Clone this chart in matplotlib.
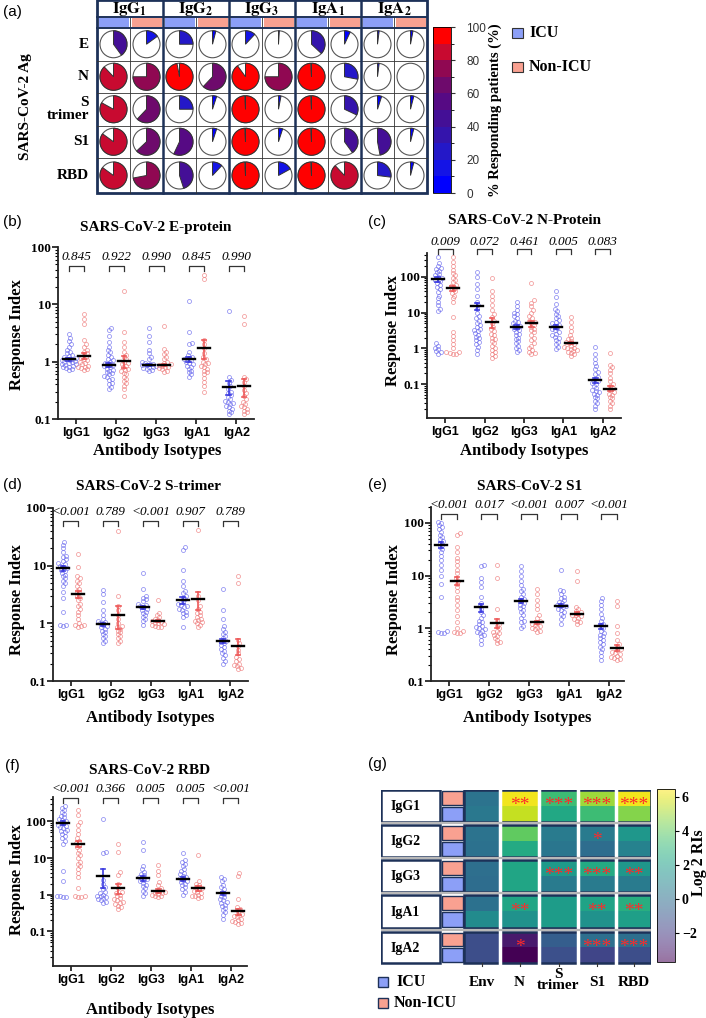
import numpy as np
import matplotlib
matplotlib.use("Agg")
from matplotlib import pyplot as plt
from matplotlib.patches import Wedge, Rectangle, Circle
from matplotlib.colors import ListedColormap, BoundaryNorm, Normalize
from matplotlib.cm import ScalarMappable
from matplotlib.ticker import LogLocator, NullFormatter
import matplotlib.transforms as mtransforms

plt.rcParams['mathtext.fontset'] = 'stix'

# ---------------- data ----------------
isotypes = ["IgG1", "IgG2", "IgG3", "IgA1", "IgA2"]
header_labels = [r"$\mathbf{IgG}_{\mathbf{1}}$", r"$\mathbf{IgG}_{\mathbf{2}}$", r"$\mathbf{IgG}_{\mathbf{3}}$",
                 r"$\mathbf{IgA}_{\mathbf{1}}$", r"$\mathbf{IgA}_{\mathbf{2}}$"]
antigens_a = ["E", "N", "S\ntrimer", "S1", "RBD"]

# % responding patients, rows = antigens, cols = isotypes
pct_icu = [
    [40, 25, 12, 37, 2],
    [88, 97, 90, 99, 2],
    [83, 25, 99, 99, 5],
    [85, 57, 99, 99, 47],
    [85, 45, 99, 99, 27],
]
pct_non = [
    [15, 4, 1, 7, 3],
    [75, 62, 75, 28, 0],
    [62, 5, 3, 32, 4],
    [63, 5, 5, 40, 4],
    [72, 12, 17, 88, 4],
]

# E-protein
e_icu = [
    [0.72, 0.75, 0.78, 0.8, 0.82, 0.85, 0.88, 0.9, 0.92, 0.95, 0.98, 1.0, 1.02, 1.05, 1.08, 1.1, 1.12, 1.15, 1.2, 1.25, 1.3, 1.4, 1.5, 1.6, 1.8, 2.0, 2.3, 2.6, 3.0],
    [0.33, 0.36, 0.4, 0.43, 0.47, 0.5, 0.53, 0.56, 0.6, 0.63, 0.66, 0.7, 0.73, 0.76, 0.8, 0.83, 0.86, 0.9, 0.95, 1.0, 1.05, 1.1, 1.2, 1.3, 1.45, 1.6, 1.8, 2.2, 2.8, 3.5, 3.9],
    [0.68, 0.72, 0.75, 0.78, 0.8, 0.82, 0.84, 0.86, 0.88, 0.9, 0.92, 0.95, 1.0, 1.1, 1.2, 1.4, 1.6, 2.2, 2.8, 3.8],
    [0.55, 0.6, 0.65, 0.7, 0.75, 0.8, 0.85, 0.9, 0.95, 1.0, 1.05, 1.1, 1.15, 1.2, 1.3, 1.45, 2.0, 2.1, 3.3, 11.5],
    [0.12, 0.13, 0.14, 0.15, 0.16, 0.17, 0.18, 0.19, 0.2, 0.21, 0.22, 0.24, 0.26, 0.28, 0.3, 0.33, 0.37, 0.42, 0.47, 0.55, 7.5],
]
e_non = [
    [0.72, 0.75, 0.78, 0.8, 0.82, 0.85, 0.9, 0.95, 1.0, 1.05, 1.1, 1.15, 1.2, 1.3, 1.4, 1.5, 1.6, 1.8, 2.0, 2.4, 4.5, 5.5, 6.8],
    [0.25, 0.33, 0.38, 0.42, 0.46, 0.5, 0.55, 0.6, 0.64, 0.68, 0.72, 0.76, 0.8, 0.85, 0.9, 0.95, 1.0, 1.1, 1.2, 1.3, 1.5, 1.8, 2.2, 3.3, 17],
    [0.66, 0.7, 0.74, 0.77, 0.8, 0.82, 0.85, 0.88, 0.9, 0.95, 1.0, 1.1, 1.2, 1.35, 1.5, 1.65, 4.2],
    [0.3, 0.37, 0.45, 0.52, 0.6, 0.65, 0.7, 0.75, 0.8, 0.85, 0.9, 0.95, 1.0, 1.1, 1.2, 1.4, 1.7, 2.0, 2.4, 28, 33],
    [0.12, 0.13, 0.14, 0.15, 0.16, 0.17, 0.18, 0.2, 0.22, 0.25, 0.28, 0.32, 0.38, 0.45, 0.5, 0.55, 4.5, 6.2],
]
e_icu_mean = [1.1, 0.88, 0.88, 1.1, 0.36]
e_icu_sem = [0.06, 0.06, 0.04, 0.12, 0.1]
e_non_mean = [1.25, 1.03, 0.87, 1.75, 0.37]
e_non_sem = [0.15, 0.25, 0.04, 0.65, 0.13]
e_p = ["0.845", "0.922", "0.990", "0.845", "0.990"]

# N-protein
n_icu = [
    [0.72, 0.78, 0.85, 0.95, 1.05, 1.2, 1.4, 11, 13, 16, 20, 25, 30, 38, 45, 52, 60, 68, 75, 82, 90, 100, 110, 120, 135, 150, 165, 180, 200, 240, 350],
    [0.72, 0.9, 1.1, 1.3, 1.5, 1.7, 1.9, 2.1, 2.4, 2.7, 3.0, 3.3, 3.6, 4.0, 4.5, 5, 6, 7, 8, 10, 13, 16, 20, 30, 45, 65, 100, 140],
    [0.8, 0.9, 1.0, 1.2, 1.4, 1.6, 1.8, 2.0, 2.3, 2.6, 2.9, 3.2, 3.5, 3.8, 4.2, 4.6, 5, 5.5, 6, 7, 8, 9, 10, 12, 15, 20],
    [0.95, 1.1, 1.3, 1.5, 1.7, 1.9, 2.1, 2.3, 2.6, 2.9, 3.2, 3.5, 3.8, 4.2, 4.6, 5, 5.6, 6.3, 7, 8, 9, 11, 13, 17, 28, 40],
    [0.02, 0.025, 0.03, 0.035, 0.04, 0.045, 0.05, 0.055, 0.06, 0.065, 0.07, 0.08, 0.09, 0.1, 0.11, 0.12, 0.14, 0.16, 0.19, 0.22, 0.27, 0.33, 0.4, 0.5, 0.7, 1.1],
]
n_non = [
    [0.7, 0.72, 0.75, 0.78, 0.8, 1.0, 1.3, 1.7, 2.2, 2.8, 7.5, 20, 25, 30, 35, 40, 45, 50, 55, 60, 70, 80, 95, 110, 130, 160, 200, 260, 350],
    [0.55, 0.62, 0.7, 0.8, 0.9, 1.0, 1.2, 1.4, 1.6, 1.8, 2.0, 2.3, 2.6, 3.0, 3.4, 4, 5, 6, 7.5, 9, 12, 16, 22, 30, 40, 95],
    [0.7, 0.75, 0.8, 0.9, 1.0, 1.2, 1.4, 1.7, 2.0, 2.4, 2.8, 3.2, 3.6, 4, 4.5, 5, 5.5, 6, 7, 8, 10, 12, 15, 19, 22, 68],
    [0.6, 0.68, 0.75, 0.8, 0.85, 0.9, 0.95, 1.0, 1.05, 1.1, 1.2, 1.3, 1.4, 1.5, 1.6, 1.8, 2.0, 2.4, 3.0, 4.0, 5.5, 7.5],
    [0.02, 0.025, 0.03, 0.035, 0.04, 0.045, 0.05, 0.055, 0.06, 0.07, 0.08, 0.09, 0.1, 0.12, 0.15, 0.2, 0.25, 0.3, 0.35, 0.75],
]
n_icu_mean = [85, 15, 4.0, 4.0, 0.13]
n_icu_sem = [12, 3.5, 0.5, 0.6, 0.02]
n_non_mean = [48, 5.4, 5.0, 1.4, 0.075]
n_non_sem = [8, 1.6, 1.0, 0.1, 0.012]
n_p = ["0.009", "0.072", "0.461", "0.005", "0.083"]

# S-trimer
st_icu = [
    [0.9, 0.92, 0.95, 1.6, 2.8, 3.5, 4.5, 5, 5.5, 6, 6.5, 7, 7.5, 8, 8.5, 9, 9.5, 10, 10.5, 11, 12, 13, 14, 15, 17, 20, 23, 26],
    [0.45, 0.5, 0.55, 0.6, 0.65, 0.7, 0.75, 0.8, 0.85, 0.9, 0.95, 1.0, 1.05, 1.1, 1.2, 1.4, 1.7, 2.3, 3.2, 3.8],
    [0.95, 1.1, 1.2, 1.3, 1.4, 1.5, 1.6, 1.7, 1.8, 1.9, 2.0, 2.1, 2.2, 2.4, 2.6, 2.8, 3.0, 4.0, 7.5],
    [0.85, 1.3, 1.4, 1.5, 1.6, 1.7, 1.8, 1.9, 2.0, 2.1, 2.2, 2.4, 2.6, 2.8, 3.0, 3.3, 3.7, 4.5, 5.5, 8.5, 19, 21],
    [0.2, 0.22, 0.25, 0.28, 0.3, 0.33, 0.36, 0.39, 0.42, 0.45, 0.48, 0.5, 0.55, 0.6, 0.65, 0.72, 0.8, 0.9, 1.2, 1.7, 4.0],
]
st_non = [
    [0.88, 0.9, 0.92, 0.95, 1.0, 1.2, 1.4, 1.6, 1.8, 2.0, 2.2, 2.5, 2.8, 3.0, 3.3, 3.6, 4, 4.5, 5, 5.5, 6, 6.5, 9.5, 16],
    [0.45, 0.5, 0.55, 0.6, 0.65, 0.7, 0.75, 0.8, 0.85, 0.9, 1.0, 1.2, 1.4, 1.7, 2.0, 3.0, 40],
    [0.85, 0.88, 0.9, 0.93, 0.96, 1.0, 1.03, 1.06, 1.1, 1.15, 1.2, 1.3, 1.4, 1.5, 2.5],
    [0.85, 0.95, 1.0, 1.05, 1.1, 1.15, 1.2, 1.3, 1.4, 1.5, 1.6, 1.8, 2.0, 2.5, 3.0, 42],
    [0.16, 0.17, 0.18, 0.19, 0.2, 0.22, 0.24, 0.26, 0.3, 0.35, 0.4, 0.45, 0.52, 5, 6.5],
]
st_icu_mean = [9.0, 0.97, 1.9, 2.5, 0.5]
st_icu_sem = [1.0, 0.06, 0.12, 0.35, 0.04]
st_non_mean = [3.2, 1.4, 1.1, 2.6, 0.41]
st_non_sem = [0.5, 0.6, 0.05, 0.9, 0.13]
st_p = ["<0.001", "0.789", "<0.001", "0.907", "0.789"]

# S1
s1_icu = [
    [0.8, 0.82, 0.85, 0.9, 4, 7, 10, 13, 16, 20, 24, 28, 32, 35, 38, 42, 46, 50, 55, 60, 68, 75, 82, 90, 100, 105],
    [0.5, 0.6, 0.7, 0.75, 0.8, 0.85, 0.9, 0.95, 1.0, 1.05, 1.1, 1.2, 1.3, 1.4, 1.6, 1.8, 2.0, 2.3, 2.6, 3.0, 4, 6, 7.5, 9, 15, 16],
    [1.0, 1.1, 1.3, 1.4, 1.6, 1.8, 2.0, 2.2, 2.4, 2.6, 2.8, 3.0, 3.3, 3.6, 4, 4.5, 5, 5.5, 6.5, 8, 10, 12, 15],
    [1.2, 1.5, 1.7, 1.9, 2.0, 2.2, 2.3, 2.5, 2.6, 2.7, 2.8, 3.0, 3.2, 3.4, 3.7, 4.0, 4.5, 5, 5.3, 13],
    [0.25, 0.3, 0.35, 0.4, 0.45, 0.5, 0.55, 0.6, 0.65, 0.7, 0.75, 0.8, 0.9, 1.0, 1.1, 1.2, 1.4, 1.6, 1.9, 2.3, 2.8, 3.3, 3.8],
]
s1_non = [
    [0.8, 0.82, 0.85, 0.9, 1.0, 1.3, 1.7, 2.2, 2.8, 3.4, 4, 5, 6, 7, 8, 9, 11, 13, 16, 19, 22, 28, 35, 60, 65],
    [0.52, 0.55, 0.6, 0.65, 0.7, 0.75, 0.8, 0.85, 0.9, 1.0, 1.1, 1.2, 1.4, 2.3, 9, 16],
    [0.85, 0.9, 0.95, 1.0, 1.05, 1.1, 1.15, 1.2, 1.3, 1.4, 1.6, 1.8, 2.3, 2.8, 3.5, 4.5, 5.5],
    [1.2, 1.3, 1.4, 1.5, 1.6, 1.7, 1.75, 1.8, 1.9, 2.0, 2.1, 2.3, 2.5, 8, 12],
    [0.25, 0.26, 0.27, 0.28, 0.3, 0.32, 0.34, 0.36, 0.38, 0.4, 0.45, 0.5, 0.6, 0.8, 1.1, 2.6, 3.3],
]
s1_icu_mean = [38, 2.5, 3.3, 2.7, 1.1]
s1_icu_sem = [5, 0.45, 0.3, 0.15, 0.12]
s1_non_mean = [8, 1.25, 1.3, 1.9, 0.43]
s1_non_sem = [1.4, 0.25, 0.08, 0.1, 0.06]
s1_p = ["<0.001", "0.017", "<0.001", "0.007", "<0.001"]

# RBD
rbd_icu = [
    [0.85, 0.88, 0.9, 0.93, 2.3, 4.5, 25, 30, 35, 40, 45, 50, 55, 60, 65, 70, 75, 80, 90, 100, 110, 120, 130, 145, 160, 180, 200, 230, 260],
    [0.6, 0.65, 0.7, 0.75, 0.8, 0.85, 0.9, 0.95, 1.0, 1.1, 1.2, 1.4, 1.6, 2.0, 2.6, 14, 15, 120],
    [0.95, 1.1, 1.3, 1.5, 1.7, 1.9, 2.1, 2.3, 2.5, 2.7, 2.9, 3.1, 3.4, 3.8, 4.3, 5, 6, 17, 28],
    [1.0, 1.2, 1.4, 1.6, 1.8, 2.0, 2.2, 2.4, 2.6, 2.8, 3.0, 3.3, 3.6, 4.0, 4.5, 5, 6, 7, 8, 9, 14],
    [0.22, 0.28, 0.33, 0.38, 0.43, 0.48, 0.53, 0.58, 0.64, 0.7, 0.77, 0.85, 0.95, 1.05, 1.2, 1.4, 1.6, 1.9, 2.3, 2.7, 3.0],
]
rbd_non = [
    [0.85, 0.88, 0.9, 0.95, 1.5, 3.0, 4.0, 5, 6, 7, 8, 10, 12, 14, 17, 20, 23, 26, 30, 35, 45, 60, 80, 95, 150, 200],
    [0.4, 0.45, 0.5, 0.55, 0.6, 0.65, 0.7, 0.75, 0.8, 0.9, 1.0, 1.1, 1.2, 1.5, 2.0, 3.5, 4.2, 15, 25],
    [0.85, 0.9, 0.95, 1.0, 1.05, 1.1, 1.15, 1.2, 1.3, 1.5, 1.8, 2.2, 3.5, 4.5, 6.5],
    [0.8, 0.85, 0.9, 0.95, 1.0, 1.1, 1.2, 1.3, 1.4, 1.5, 1.6, 1.8, 2.0, 2.3, 12],
    [0.16, 0.17, 0.18, 0.19, 0.2, 0.22, 0.24, 0.26, 0.28, 0.3, 0.34, 0.4, 0.45, 0.75, 3.3, 4],
]
rbd_icu_mean = [90, 3.2, 2.8, 2.7, 1.1]
rbd_icu_sem = [10, 1.7, 0.4, 0.3, 0.1]
rbd_non_mean = [25, 1.5, 1.3, 1.5, 0.35]
rbd_non_sem = [5, 0.45, 0.15, 0.2, 0.07]
rbd_p = ["<0.001", "0.366", "0.005", "0.005", "<0.001"]

# heat map (g): log2 RI, rows per isotype: Non-ICU then ICU
heat_antigens = ["Env", "N", "S\ntrimer", "S1", "RBD"]
heat_non = [
    [0.2, 6.3, 3.3, 5.0, 6.3],
    [0.2, 4.0, 0.5, 0.5, 1.7],
    [0.0, 2.3, 1.8, 2.5, 1.7],
    [0.1, 2.3, 1.9, 2.2, 2.7],
    [-1.3, -3.0, -0.7, 0.0, 0.0],
]
heat_icu = [
    [0.4, 5.6, 2.4, 3.3, 4.6],
    [0.1, 2.5, 0.3, -0.1, 0.8],
    [-0.1, 2.3, 0.5, 0.5, 0.5],
    [1.2, 1.5, 1.9, 1.5, 2.0],
    [-1.3, -3.7, -1.2, -1.6, -1.3],
]
heat_stars = [
    ["", "**", "***", "***", "***"],
    ["", "", "", "*", ""],
    ["", "", "***", "***", "**"],
    ["", "**", "", "**", "**"],
    ["", "*", "", "***", "***"],
]

# ---------------- style ----------------
SERIF = 'Liberation Serif'
SANS = 'Liberation Sans'
NAVY = '#1d3158'
ICU_C = '#8c9ff7'
NON_C = '#f9a191'
BLUE_PT = '#7070ee'
RED_PT = '#ef8080'
BLUE_ERR = '#3b3be0'
RED_ERR = '#ee5a5a'
pie_colors = ['#0000ff', '#1414e6', '#2418c8', '#3414ac', '#440f96',
              '#560a84', '#6e0a6c', '#900852', '#c80a30', '#ff0000']

W, H = 706, 1018
fig = plt.figure(figsize=(W / 100, H / 100), dpi=100)


def rect(x0, y0, x1, y1):
    return [x0 / W, 1 - y1 / H, (x1 - x0) / W, (y1 - y0) / H]


def ftext(x, y, s, **kw):
    return fig.text(x / W, 1 - y / H, s, **kw)


def bold_serif(size):
    return dict(fontfamily=SERIF, fontweight='bold', fontsize=size)


# ---------------- (a) pie grid ----------------
axa = fig.add_axes(rect(97, 0, 427, 193))
axa.set_xlim(97, 427)
axa.set_ylim(193, 0)
axa.axis('off')
col_edges = [97, 163, 229, 295, 361, 427]
row_edges = [28, 60.5, 93, 125.5, 158, 193]
for j in range(5):
    c0 = col_edges[j]
    axa.add_patch(Rectangle((c0 + 1.5, 18), 30, 8.5, color=ICU_C, lw=0))
    axa.add_patch(Rectangle((c0 + 34.5, 18), 30, 8.5, color=NON_C, lw=0))
    axa.text(c0 + 33, 8.5, header_labels[j], ha='center', va='center', fontsize=12)
    for i in range(5):
        cy = (row_edges[i] + row_edges[i + 1]) / 2
        for k, pct in enumerate([pct_icu[i][j], pct_non[i][j]]):
            cx = c0 + 16.5 + 33 * k
            axa.add_patch(Circle((cx, cy), 13.5, facecolor='white', edgecolor='#555', lw=0.8))
            if pct > 0:
                col = pie_colors[min(int(pct // 10), 9)]
                axa.add_patch(Wedge((cx, cy), 13.5, -90, -90 + 3.6 * pct,
                                    facecolor=col, edgecolor='#333', lw=0.7))
for j in range(5):
    xm = col_edges[j] + 33
    axa.plot([xm, xm], [17, 193], color='#333', lw=0.6, clip_on=False)
for y in row_edges[1:-1]:
    axa.plot([97, 427], [y, y], color='#333', lw=0.6, clip_on=False)
for x in col_edges[1:-1]:
    axa.plot([x, x], [0, 193], color=NAVY, lw=1.8, clip_on=False)
axa.plot([97, 427], [16.5, 16.5], color=NAVY, lw=1.4, clip_on=False)
axa.plot([97, 427], [27.5, 27.5], color=NAVY, lw=1.4, clip_on=False)
axa.add_patch(Rectangle((97, 0), 330, 193, fill=False, edgecolor=NAVY, lw=2, clip_on=False))

for i, lab in enumerate(antigens_a):
    cy = (row_edges[i] + row_edges[i + 1]) / 2
    ftext(89, cy, lab, ha='right', va='center', multialignment='right', linespacing=0.95,
          **bold_serif(11))
ftext(26, 107, "SARS-CoV-2 Ag", rotation=90, ha='center', va='center', **bold_serif(11))
ftext(3, 12, "(a)", ha='left', va='center', fontfamily=SANS, fontsize=11)

cax = fig.add_axes(rect(433, 27, 451, 193))
sm = ScalarMappable(norm=BoundaryNorm(np.arange(0, 101, 10), 10), cmap=ListedColormap(pie_colors))
cb = fig.colorbar(sm, cax=cax, ticks=[0, 20, 40, 60, 80, 100])
cb.ax.tick_params(labelsize=8.5, length=3, pad=8, colors='#333')
for t in cb.ax.get_yticklabels():
    t.set_fontfamily(SANS)
cb.outline.set_linewidth(0.6)
ftext(495, 110, "% Responding patients (%)", rotation=90, ha='center', va='center', **bold_serif(10.5))

for y, lab, c in [(33, "ICU", ICU_C), (67, "Non-ICU", NON_C)]:
    fig.patches.append(Rectangle((512 / W, 1 - (y + 5) / H), 11 / W, 10 / H, transform=fig.transFigure,
                                 facecolor=c, edgecolor='#333', lw=0.8))
    ftext(529, y, lab, ha='left', va='center', **bold_serif(11.5))


# ---------------- scatter panels ----------------
def swarm(ax, xc, vals, d=3.3, maxw=7.0):
    vals = np.asarray(vals, dtype=float)
    disp = ax.transData.transform(np.column_stack([np.full(len(vals), xc), vals]))
    ys = disp[:, 1]
    order = np.argsort(ys)
    placed = []
    offs = np.zeros(len(vals))
    for k in order:
        y = ys[k]
        near = [(px, py) for px, py in placed if abs(py - y) < d]
        cands = [0.0]
        for px, py in near:
            dx = np.sqrt(d * d - (py - y) ** 2)
            cands += [px + dx, px - dx]
        cands = sorted(cands, key=abs)
        best = None
        for c in cands:
            if abs(c) > maxw:
                continue
            if all((c - px) ** 2 + (y - py) ** 2 >= d * d - 1e-6 for px, py in near):
                best = c
                break
        if best is None:
            grid = np.linspace(-maxw, maxw, 13)
            best = max(grid, key=lambda c: min((c - px) ** 2 + (y - py) ** 2 for px, py in near))
        placed.append((best, y))
        offs[k] = best
    pts = ax.transData.inverted().transform(np.column_stack([disp[:, 0] + offs, ys]))
    return pts[:, 0], pts[:, 1]


def draw_panel(box, ylim, xlim, off, icu, non, icu_m, icu_s, non_m, non_s, pvals, p_y, br_y):
    ax = fig.add_axes(rect(*box))
    ax.set_yscale('log')
    ax.set_ylim(*ylim)
    ax.set_xlim(*xlim)
    for s in ['top', 'right']:
        ax.spines[s].set_visible(False)
    for s in ['left', 'bottom']:
        ax.spines[s].set_linewidth(1.3)
        ax.spines[s].set_color('#222')
    ax.set_yticks([0.1, 1, 10, 100])
    ax.set_yticklabels(['0.1', '1', '10', '100'])
    ax.yaxis.set_minor_locator(LogLocator(subs=np.arange(2, 10)))
    ax.yaxis.set_minor_formatter(NullFormatter())
    ax.set_xticks(range(5))
    ax.set_xticklabels(isotypes)
    ax.tick_params(axis='y', which='major', length=4, width=1.1, pad=1)
    ax.tick_params(axis='y', which='minor', length=2.2, width=0.8)
    ax.tick_params(axis='x', length=3.5, width=1.1, pad=2)
    for t in ax.get_yticklabels():
        t.set_fontfamily(SERIF)
        t.set_fontweight('bold')
        t.set_fontsize(9.5)
    for t in ax.get_xticklabels():
        t.set_fontfamily(SANS)
        t.set_fontweight('bold')
        t.set_fontsize(9)

    for i in range(5):
        groups = [(icu[i], icu_m[i], icu_s[i], -off, BLUE_PT, BLUE_ERR),
                  (non[i], non_m[i], non_s[i], off, RED_PT, RED_ERR)]
        for vals, m, s, dx, pc, ec in groups:
            x0 = i + dx
            xs, ys = swarm(ax, x0, vals)
            ax.plot(xs, ys, 'o', ms=2.9, mfc='none', mec=pc, mew=0.55, alpha=0.8)
            ax.plot([x0, x0], [m - s, m + s], color=ec, lw=1.2)
            for yy in (m - s, m + s):
                ax.plot([x0 - 0.06, x0 + 0.06], [yy, yy], color=ec, lw=1.2)
            ax.plot([x0 - 0.15, x0 + 0.15], [m, m], color='black', lw=1.7)

    tr = mtransforms.blended_transform_factory(ax.transData, fig.transFigure)
    for i, p in enumerate(pvals):
        ax.text(i, 1 - p_y / H, p, transform=tr, ha='center', va='center', fontsize=9.5,
                fontstyle='italic', fontfamily=SERIF, clip_on=False)
        yt, yb = 1 - br_y / H, 1 - (br_y + 5) / H
        ax.plot([i - off, i - off, i + off, i + off], [yb, yt, yt, yb], transform=tr,
                color='#333', lw=0.9, clip_on=False)
    return ax


draw_panel((58, 247, 254, 419), (0.1, 100), (-0.46, 4.44), 0.19,
           e_icu, e_non, e_icu_mean, e_icu_sem, e_non_mean, e_non_sem, e_p, 257, 266)
draw_panel((427, 253, 621, 418), (0.0114, 464), (-0.46, 4.46), 0.19,
           n_icu, n_non, n_icu_mean, n_icu_sem, n_non_mean, n_non_sem, n_p, 242, 249)
draw_panel((53, 508, 248, 681), (0.1, 100), (-0.44, 4.44), 0.19,
           st_icu, st_non, st_icu_mean, st_icu_sem, st_non_mean, st_non_sem, st_p, 512, 521)
draw_panel((431, 507, 624, 681), (0.1, 200), (-0.45, 4.375), 0.2,
           s1_icu, s1_non, s1_icu_mean, s1_icu_sem, s1_non_mean, s1_non_sem, s1_p, 505, 514)
draw_panel((53, 797, 247, 966), (0.0114, 464), (-0.44, 4.41), 0.19,
           rbd_icu, rbd_non, rbd_icu_mean, rbd_icu_sem, rbd_non_mean, rbd_non_sem, rbd_p, 789, 798)

titles = [("(b)", 3, 222, "SARS-CoV-2 E-protein", 156, 228, 17, 335, 157, 451),
          ("(c)", 368, 222, "SARS-CoV-2 N-Protein", 524, 221, 393, 331, 524, 451),
          ("(d)", 3, 485, "SARS-CoV-2 S-trimer", 149, 487, 17, 600, 150, 718),
          ("(e)", 368, 485, "SARS-CoV-2 S1", 530, 487, 394, 600, 527, 718),
          ("(f)", 5, 766, "SARS-CoV-2 RBD", 150, 770, 17, 880, 150, 1010)]
for letter, lx, ly, title, tx, ty, yx, yy, ax_x, ax_y in titles:
    ftext(lx, ly, letter, ha='left', va='center', fontfamily=SANS, fontsize=11)
    ftext(tx, ty, title, ha='center', va='center', **bold_serif(11))
    ftext(yx, yy, "Response Index", rotation=90, ha='center', va='center', **bold_serif(12))
    ftext(ax_x, ax_y, "Antibody Isotypes", ha='center', va='center', **bold_serif(12))

# ---------------- (g) heat map ----------------
heat_cmap = plt.get_cmap('viridis')
heat_norm = Normalize(-3.7, 6.5)
axg = fig.add_axes(rect(381, 790, 651, 966))
axg.set_xlim(381, 651)
axg.set_ylim(966, 790)
axg.axis('off')
xedges = [464, 500, 539, 578, 616, 651]
groups_y = [(790, 822), (825, 857), (860, 892), (895, 928), (932, 963)]
for g, (y0, y1) in enumerate(groups_y):
    ym = (y0 + y1) / 2
    axg.pcolormesh(xedges, [y0, ym, y1], np.array([heat_non[g], heat_icu[g]]),
                   cmap=heat_cmap, norm=heat_norm, shading='flat')
    for x in xedges[1:-1]:
        axg.plot([x, x], [y0, y1], color='white', lw=2.5)
    for c in range(5):
        if heat_stars[g][c]:
            xc = (xedges[c] + xedges[c + 1]) / 2
            axg.text(xc, ym, heat_stars[g][c], color='#ff2a2a', ha='center', va='center',
                     fontsize=14, fontfamily=SERIF)
    axg.add_patch(Rectangle((381, y0), 59, y1 - y0, facecolor='white', edgecolor=NAVY, lw=1.8))
    axg.add_patch(Rectangle((441.5, y0 + 1), 21, ym - y0 - 2, facecolor=NON_C, edgecolor=NAVY, lw=1))
    axg.add_patch(Rectangle((441.5, ym + 1), 21, y1 - ym - 2, facecolor=ICU_C, edgecolor=NAVY, lw=1))
    axg.add_patch(Rectangle((464, y0), 187, y1 - y0, fill=False, edgecolor=NAVY, lw=1.8))
    axg.text(391, ym + 1, isotypes[g], ha='left', va='center', **bold_serif(10))
for y in [823.5, 858.5, 893.5, 930]:
    axg.plot([381, 651], [y, y], color='#b8b8b8', lw=1.6)
for c in range(5):
    xc = (xedges[c] + xedges[c + 1]) / 2
    axg.plot([xc, xc], [963, 966], color='#333', lw=0.8, clip_on=False)
    lab = heat_antigens[c]
    if "\n" in lab:
        ftext(xc, 980, lab, ha='center', va='center', linespacing=0.85, **bold_serif(11))
    else:
        ftext(xc, 983, lab, ha='center', va='center', **bold_serif(11))

gcax = fig.add_axes(rect(657, 789, 675, 962))
pale = heat_cmap(np.linspace(0, 1, 256))
pale[:, :3] = pale[:, :3] * 0.55 + 0.45
gcb = fig.colorbar(ScalarMappable(norm=heat_norm, cmap=ListedColormap(pale)), cax=gcax,
                   ticks=[-2, 0, 2, 4, 6])
gcb.ax.tick_params(labelsize=10, length=3, pad=2)
for t in gcb.ax.get_yticklabels():
    t.set_fontfamily(SERIF)
    t.set_fontweight('bold')
gcb.outline.set_linewidth(0.6)
ftext(699, 863, "Log 2 RIs", rotation=90, ha='center', va='center', **bold_serif(11.5))
ftext(368, 764, "(g)", ha='left', va='center', fontfamily=SANS, fontsize=11)

for y, lab, c in [(982, "ICU", ICU_C), (1003, "Non-ICU", NON_C)]:
    fig.patches.append(Rectangle((378 / W, 1 - (y + 5) / H), 10 / W, 10 / H, transform=fig.transFigure,
                                 facecolor=c, edgecolor=NAVY, lw=1))
    ftext(396 if lab == "ICU" else 394, y, lab, ha='left', va='center', **bold_serif(11.5))

fig.savefig("out.png", dpi=100)
